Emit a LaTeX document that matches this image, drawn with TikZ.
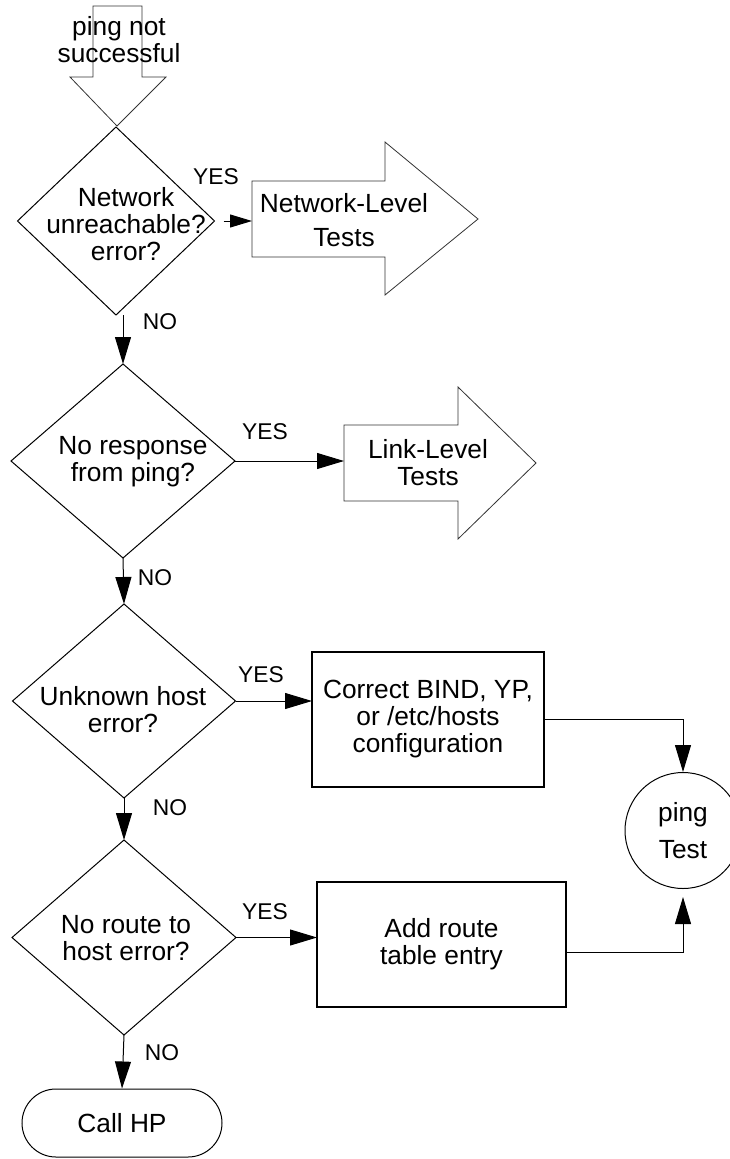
\documentclass[tikz,border=0pt]{standalone}
\usepackage{fontspec}
\setmainfont{Liberation Sans}
\usetikzlibrary{shapes.geometric,arrows.meta,calc}
\newcommand\nodefnt{\fontsize{26.3}{27}\selectfont}
\newcommand\labfnt{\fontsize{22.8}{24}\selectfont}
\begin{document}
\begin{tikzpicture}[x=1pt,y=-1pt,
  conn/.style={line width=1pt, -{Triangle[length=27pt,width=16pt]}},
  decision/.style={diamond, draw, line width=1pt, inner sep=0pt, outer sep=0pt},
  procbox/.style={rectangle, draw, line width=1.5pt, align=center, font=\nodefnt, inner sep=0pt, outer sep=0pt},
  blockarrow/.style={draw=black!80, line width=0.8pt},
  yesno/.style={font=\labfnt, inner sep=0pt},
  txt/.style={align=center, font=\nodefnt, inner sep=0pt}]
\useasboundingbox (0,0) rectangle (730,1159);

% entry block arrow
\draw[blockarrow] (93,6) -- (142,6) -- (142,77) -- (166,77) -- (117,126) -- (70,77) -- (93,77) -- cycle;
\node[txt] (start) at (119,40) {ping not\\successful};

% decision 1
\node[decision, minimum width=197pt, minimum height=188pt,
  label={[txt, xshift=10pt, yshift=-3pt]center:{Network\\unreachable?\\error?}}] (d1) at (116,221) {};

% Network-Level Tests block arrow
\draw[blockarrow] (252,181) -- (385,181) -- (385,142) -- (478,219) -- (385,295) -- (385,257) -- (252,257) -- cycle;
\node[txt] (nlt) at (344,220) {Network-Level\\[7pt]Tests};
\coordinate (nltin) at (252,219);

% decision 2
\node[decision, minimum width=224pt, minimum height=194pt,
  label={[txt, xshift=10pt, yshift=-1pt]center:{No response\\from ping?}}] (d2) at (123,461) {};

% Link-Level Tests block arrow
\draw[blockarrow] (344,425) -- (458,425) -- (458,387) -- (536,463) -- (458,539) -- (458,501) -- (344,501) -- cycle;
\node[txt] (llt) at (428,463) {Link-Level\\Tests};
\coordinate (lltin) at (344,461);

% decision 3
\node[decision, minimum width=223pt, minimum height=194pt,
  label={[txt, xshift=-1pt, yshift=-9pt]center:{Unknown host\\error?}}] (d3) at (124,701) {};

% decision 4
\node[decision, minimum width=224pt, minimum height=195pt,
  label={[txt, xshift=2pt, yshift=-1pt]center:{No route to\\host error?}}] (d4) at (124,937.5) {};

% process boxes
\node[procbox, minimum width=232pt, minimum height=135pt] (b1) at (428,719.5) {Correct BIND, YP,\\or /etc/hosts\\configuration};
\node[procbox, minimum width=249pt, minimum height=125pt] (b2) at (441.5,944.5) {Add route\\table entry};

% ping test circle
\node[circle, draw, line width=1pt, minimum size=116pt, inner sep=0pt, align=center, font=\nodefnt] (ping) at (683,830.5) {ping\\[10pt]Test};

% terminal
\node[draw, line width=1pt, rounded corners=34pt, minimum width=200pt, minimum height=68pt, font=\nodefnt, inner sep=0pt] (hp) at (122,1123) {Call HP};

% connectors
\draw[line width=1pt, -{Triangle[length=22pt,width=13pt]}] ($(d1.east)+(9,0)$) -- (d1.east -| nltin);
\draw[conn] (d1.south -| d2.north) -- (d2.north);
\draw[conn] (d2.east) -- (d2.east -| lltin);
\draw[conn] (d2.south) -- (d3.north);
\draw[conn] (d3.east) -- (d3.east -| b1.west);
\draw[conn] (b1.east) -| (ping.north);
\draw[conn] (d3.south) -- (d4.north);
\draw[conn] (d4.east) -- (d4.east -| b2.west);
\coordinate (b2out) at ($(b2.south east)!0.44!(b2.north east)$);
\draw[conn, shorten >=8pt] (b2out) -| (ping.south);
\draw[conn] (d4.south) -- (hp.north);

% labels
\node[yesno] (yes1) at (216,177) {YES};
\node[yesno] (no1) at (160,322) {NO};
\node[yesno] (yes2) at (265,432) {YES};
\node[yesno] (no2) at (155,578) {NO};
\node[yesno] (yes3) at (261,675) {YES};
\node[yesno] (no3) at (170,808) {NO};
\node[yesno] (yes4) at (265,912) {YES};
\node[yesno] (no4) at (162,1053) {NO};
\end{tikzpicture}
\end{document}
